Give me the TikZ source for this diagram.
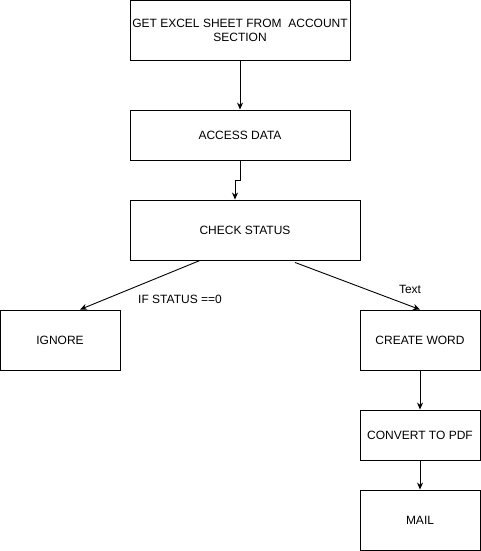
\documentclass[tikz,border=0pt]{standalone}
\usepackage{fontspec}
\setmainfont{Liberation Sans}
\usetikzlibrary{calc,arrows.meta}
\tikzset{
	stepbox/.style={draw, line width=0.9pt, rectangle, inner sep=0pt, align=center, minimum width=120pt, minimum height=60pt},
	flow/.style={line width=0.9pt, -{Stealth[length=7pt, width=6pt]}},
	lbl/.style={inner sep=0pt}
}
\begin{document}
\begin{tikzpicture}[x=1pt, y=-1pt, font=\fontsize{12}{14}\selectfont]
		%%%%% START %%%%%
		\useasboundingbox (0, 0) rectangle (481, 551);
		
		\node[stepbox, minimum width=220pt] (excel) at (240, 30) {GET EXCEL SHEET FROM\ \ ACCOUNT\\SECTION};
		\node[stepbox, minimum width=220pt, minimum height=50pt] (access) at (240, 135) {ACCESS DATA};
		\node[stepbox, minimum width=230pt] (check) at (245, 230) {CHECK STATUS};
		
		\node[stepbox] (ignore) at (60, 340) {IGNORE};
		\node[stepbox] (word) at (420, 340) {CREATE WORD};
		\node[stepbox, minimum height=50pt] (pdf) at (420, 435) {CONVERT TO PDF};
		\node[stepbox] (mail) at (420, 520) {MAIL};
		
		\draw[flow] (excel) -- (access);
		\draw[flow] (access.south) -- ++(0, 20) -| ($(check.north)+(-10, 0)$);
		
		\coordinate (leftout) at ($(check.south)+(-45, 0)$);
		\coordinate (rightout) at ($(check.south)+(50, 2)$);
		\draw[flow] (leftout) -- ($(ignore.north)+(20, 0)$);
		\draw[flow] (rightout) -- (word.north);
		\node[lbl] (ifzero) at (180, 299) {IF STATUS ==0};
		\node[lbl] (textlbl) at (410, 289) {Text};
		
		\draw[flow] (word) -- (pdf);
		\draw[flow] (pdf) -- (mail);
		
		%%%%% END %%%%%
\end{tikzpicture}
\end{document}
